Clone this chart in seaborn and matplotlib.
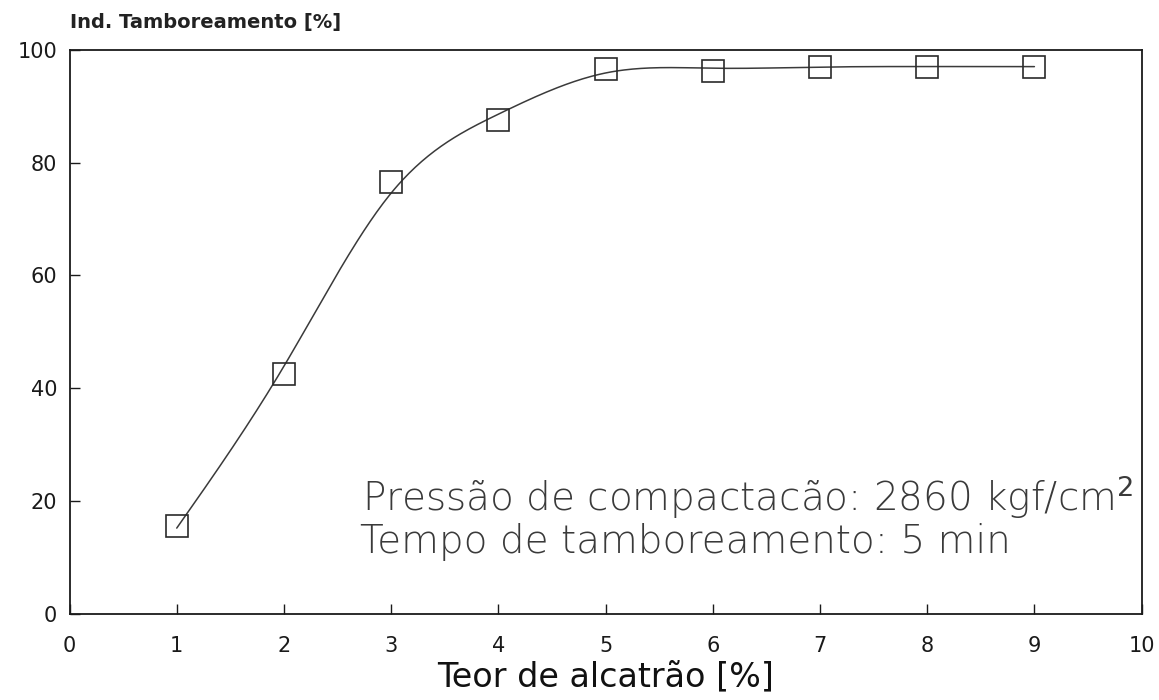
import numpy as np
import pandas as pd
import matplotlib
matplotlib.use("Agg")
import matplotlib.pyplot as plt
import seaborn as sns

# Tar content vs. tumbler index
teor_alcatrao = [1, 2, 3, 4, 5, 6, 7, 8, 9]
ind_tamboreamento = [15.5, 42.5, 76.5, 87.5, 96.5, 96.3, 97.0, 97.0, 97.0]

x_ticks = [0, 1, 2, 3, 4, 5, 6, 7, 8, 9, 10]
y_ticks = [0, 20, 40, 60, 80, 100]

x_label = "Teor de alcatrão [%]"
y_label = "Ind. Tamboreamento [%]"
note_lines = ["Pressão de compactacão: 2860 kgf/cm$^{2}$",
              "Tempo de tamboreamento: 5 min"]


def smoothing_spline(x, y, alpha, xs):
    """Natural cubic smoothing spline (Reinsch form) evaluated at xs."""
    x = np.asarray(x, float)
    y = np.asarray(y, float)
    n = len(x)
    h = np.diff(x)
    Q = np.zeros((n, n - 2))
    R = np.zeros((n - 2, n - 2))
    for j in range(1, n - 1):
        c = j - 1
        Q[j - 1, c] = 1 / h[j - 1]
        Q[j, c] = -1 / h[j - 1] - 1 / h[j]
        Q[j + 1, c] = 1 / h[j]
        R[c, c] = (h[j - 1] + h[j]) / 3
        if c + 1 < n - 2:
            R[c, c + 1] = R[c + 1, c] = h[j] / 6
    K = Q @ np.linalg.solve(R, Q.T)
    g = np.linalg.solve(np.eye(n) + alpha * K, y)
    gam = np.zeros(n)
    gam[1:-1] = np.linalg.solve(R, Q.T @ g)

    i = np.clip(np.searchsorted(x, xs) - 1, 0, n - 2)
    a = xs - x[i]
    b = x[i + 1] - xs
    hi = h[i]
    return ((a * g[i + 1] + b * g[i]) / hi
            - a * b / 6 * ((1 + a / hi) * gam[i + 1] + (1 + b / hi) * gam[i]))


xs = np.linspace(min(teor_alcatrao), max(teor_alcatrao), 400)
curve = pd.DataFrame({"teor": xs,
                      "ind": smoothing_spline(teor_alcatrao, ind_tamboreamento, 0.03, xs)})
pts = pd.DataFrame({"teor": teor_alcatrao, "ind": ind_tamboreamento})

sns.set_theme(style="ticks")
plt.rcParams["font.family"] = ["DejaVu Sans"]
plt.rcParams["mathtext.fontset"] = "dejavusans"

fig = plt.figure(figsize=(11.59, 7.0), dpi=100)
ax = fig.add_axes([0.060, 0.123, 0.925, 0.806])

sns.lineplot(data=curve, x="teor", y="ind", ax=ax, color="#3a3a3a",
             linewidth=1.1, estimator=None, sort=False)
ax.plot(pts["teor"], pts["ind"], linestyle="none", marker="s", markersize=16,
        markerfacecolor="none", markeredgecolor="#2a2a2a", markeredgewidth=1.2)

ax.set_xlim(0, 10)
ax.set_ylim(0, 100)
ax.set_xticks(x_ticks)
ax.set_yticks(y_ticks)
ax.tick_params(direction="in", length=7, width=1.0, colors="#1a1a1a",
               labelsize=15, labelcolor="#1a1a1a")
ax.tick_params(axis="x", pad=16)
ax.tick_params(axis="y", pad=9)

for side in ["left", "right", "top", "bottom"]:
    ax.spines[side].set_visible(True)
    ax.spines[side].set_linewidth(1.3)
    ax.spines[side].set_color("#1a1a1a")

ax.set_xlabel(x_label, fontsize=24, color="#111111", labelpad=3)
ax.set_ylabel("")
fig.text(0.060, 0.968, y_label, fontsize=14, fontweight="semibold",
         color="#222222", ha="left", va="center")

ax.text(2.73, 20.7, note_lines[0], fontsize=28, color="#3a3a3a",
        fontweight="light", ha="left", va="center")
ax.text(2.71, 12.8, note_lines[1], fontsize=28, color="#3a3a3a",
        fontweight="light", ha="left", va="center")

fig.savefig("out.png", dpi=100, facecolor="white")
